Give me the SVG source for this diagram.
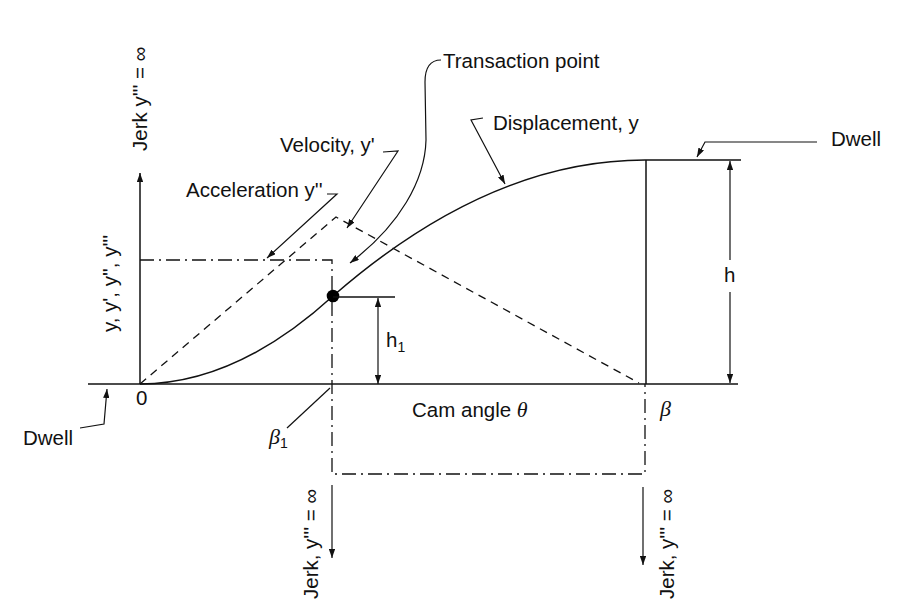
<svg xmlns="http://www.w3.org/2000/svg" width="902" height="612" viewBox="0 0 902 612">
<style>
.ln{fill:none;stroke:#111;stroke-width:1.5}
.dash{fill:none;stroke:#111;stroke-width:1.3;stroke-dasharray:8,6}
.dd{fill:none;stroke:#111;stroke-width:1.3;stroke-dasharray:14,5,2,5}
.ld{fill:none;stroke:#111;stroke-width:1.2}
text{font-family:"Liberation Sans",Arial,sans-serif;font-size:20.5px;fill:#111}
.gr{font-family:"Liberation Serif","Times New Roman",serif;font-style:italic;font-size:22px}
.sub{font-size:14px}
</style>
<defs>
<marker id="ar" viewBox="0 0 10 7" refX="10" refY="3.5" markerWidth="9" markerHeight="6.3" markerUnits="userSpaceOnUse" orient="auto-start-reverse">
<path d="M0,0 L10,3.5 L0,7 z" fill="#111"/>
</marker>
</defs>
<rect width="902" height="612" fill="#fff"/>

<g id="axes">
<line class="ln" x1="88" y1="384" x2="738" y2="384"/>
<line class="ln" x1="140" y1="384" x2="140" y2="173" marker-end="url(#ar)"/>
<text transform="translate(147,151) rotate(-90)">Jerk y''' = ∞</text>
<text transform="translate(117,332) rotate(-90)">y, y', y'', y'''</text>
<text x="136" y="405">0</text>
<text x="412" y="417">Cam angle <tspan class="gr">θ</tspan></text>
<text class="gr" x="660" y="416">β</text>
<text class="gr" x="269" y="444">β<tspan class="sub" style="font-family:'Liberation Sans',Arial,sans-serif;font-style:normal" dy="4">1</tspan></text>
</g>

<g id="acceleration">
<path class="dd" d="M140,260 L332,260 L332,474 L645,474 L645,384"/>
</g>

<g id="velocity">
<path class="dash" d="M140,384 L336,217 L639,383"/>
</g>

<g id="displacement">
<path class="ln" d="M140,384 Q236.5,384 333,296 Q489,160 645,160 L741,160"/>
<line class="ln" x1="646" y1="160" x2="646" y2="384"/>
<circle cx="333" cy="296" r="6.3" fill="#000"/>
<line class="ln" x1="333" y1="297" x2="395" y2="297"/>
</g>

<g id="dimensions">
<line class="ld" x1="378" y1="298" x2="378" y2="384" marker-start="url(#ar)" marker-end="url(#ar)"/>
<text x="386" y="347">h<tspan class="sub" dy="5">1</tspan></text>
<line class="ld" x1="730" y1="260" x2="730" y2="161" marker-end="url(#ar)"/>
<line class="ld" x1="730" y1="292" x2="730" y2="383" marker-end="url(#ar)"/>
<text x="724" y="282">h</text>
</g>

<g id="jerk">
<line class="ld" x1="332" y1="485" x2="332" y2="558" marker-end="url(#ar)"/>
<line class="ld" x1="643" y1="487" x2="643" y2="565" marker-end="url(#ar)"/>
<text transform="translate(318,599) rotate(-90)">Jerk, y''' = ∞</text>
<text transform="translate(674,599) rotate(-90)">Jerk, y''' = ∞</text>
</g>

<g id="labels">
<text x="443" y="68">Transaction point</text>
<text x="493" y="130">Displacement, y</text>
<text x="831" y="146">Dwell</text>
<text x="280" y="152">Velocity, y'</text>
<text x="186" y="197">Acceleration y''</text>
<text x="23" y="445">Dwell</text>
</g>

<g id="connectors">
<path class="ld" d="M441,60 C430,60 425,68 425,82 L426,140 C425,180 400,225 350,263" marker-end="url(#ar)"/>
<path class="ld" d="M383,152 L398,151 L347,228" marker-end="url(#ar)"/>
<path class="ld" d="M327,194 L337,194 L267,258" marker-end="url(#ar)"/>
<path class="ld" d="M483,118 L471,120 L505,184" marker-end="url(#ar)"/>
<path class="ld" d="M817,142 L705,142 L697,157" marker-end="url(#ar)"/>
<path class="ld" d="M80,428 L104,424 L107,389" marker-end="url(#ar)"/>
<path class="ld" d="M287,428 L330,388"/>
</g>
</svg>
